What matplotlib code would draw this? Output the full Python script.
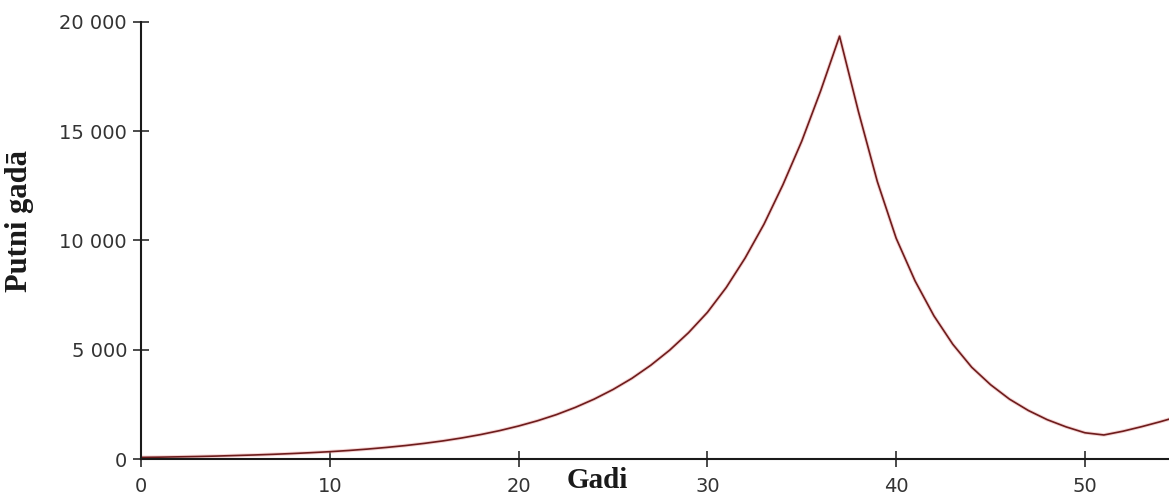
import matplotlib
matplotlib.use("Agg")
import matplotlib.pyplot as plt

# population counts per year
years = list(range(0, 56))
birds = [75, 85, 100, 115, 135, 160, 185, 215, 250, 290,
         335, 390, 455, 530, 615, 715, 830, 965, 1120, 1300,
         1510, 1750, 2030, 2360, 2740, 3180, 3690, 4290, 4980, 5780,
         6710, 7850, 9200, 10750, 12550, 14550, 16850, 19350, 15900, 12700,
         10100, 8150, 6550, 5250, 4200, 3400, 2740, 2220, 1800, 1470,
         1200, 1100, 1270, 1480, 1710, 1960]

y_ticks = [0, 5000, 10000, 15000, 20000]
y_tick_labels = ["0", "5 000", "10 000", "15 000", "20 000"]
x_ticks = [0, 10, 20, 30, 40, 50]

fig = plt.figure(figsize=(11.69, 4.95), dpi=100)
ax = fig.add_axes([0.1206, 0.0727, 0.8794, 0.8829])

# soft reddish fringe under the line, then the line itself
ax.plot(years, birds, color="#e8a0a0", lw=2.6, alpha=0.45, solid_joinstyle="round")
ax.plot(years, birds, color="#6e1c1c", lw=1.2, solid_joinstyle="round")

ax.set_xlim(0, 54.45)
ax.set_ylim(0, 20000)
ax.set_xticks(x_ticks)
ax.set_yticks(y_ticks)
ax.set_yticklabels(y_tick_labels)

for side in ("top", "right"):
    ax.spines[side].set_visible(False)
for side in ("left", "bottom"):
    ax.spines[side].set_color("#1a1a1a")
    ax.spines[side].set_linewidth(1.5)
    ax.spines[side].set_clip_on(False)

ax.tick_params(axis="both", direction="inout", length=12, width=1.1,
               color="#1a1a1a", labelsize=14, labelcolor="#333333",
               labelfontfamily="DejaVu Sans")
ax.tick_params(axis="y", pad=4)
ax.tick_params(axis="x", pad=7)

fig.text(597 / 1169, 1 - 467 / 495, "Gadi", ha="center", va="top",
         fontsize=21, fontweight="bold", family="Liberation Serif", color="#1a1a1a")
fig.text(19 / 1169, 1 - 221 / 495, "Putni gadā", ha="center", va="center",
         rotation=90, fontsize=22, fontweight="bold", family="Liberation Serif",
         color="#1a1a1a")

fig.savefig("out.png", dpi=100)
